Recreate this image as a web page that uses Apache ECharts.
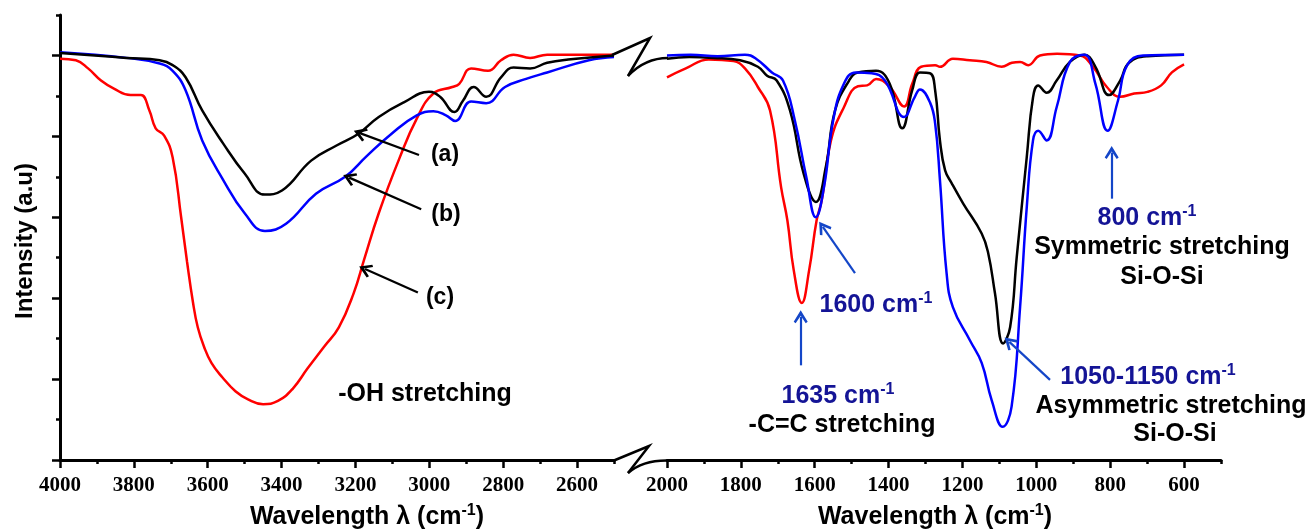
<!DOCTYPE html>
<html>
<head>
<meta charset="utf-8">
<script src="https://cdn.jsdelivr.net/npm/echarts@6/dist/echarts.min.js"></script>
<style>
html,body{margin:0;padding:0;background:#fff;}
#chart{width:1311px;height:532px;}
</style>
</head>
<body>
<div id="chart"></div>
<script>
// ---------- data ----------
// Left panel (4000–2500 cm-1)
const aLeftW = [4000,3820,3730,3695,3660,3615,3558,3500,3445,3399,3320,3250,3193,3137,3069,3001,2971,2932,2909,2880,2846,2806,2772,2727,2681,2624,2500];
const aLeftI = [5.03,4.97,4.94,4.88,4.73,4.32,3.91,3.54,3.28,3.33,3.70,3.89,4.03,4.24,4.42,4.55,4.49,4.30,4.44,4.61,4.49,4.73,4.85,4.84,4.91,4.95,5.0];
const bLeftW = [4000,3820,3730,3695,3660,3615,3558,3500,3445,3388,3307,3228,3171,3103,3034,2989,2955,2930,2887,2846,2795,2738,2681,2568,2500];
const bLeftI = [5.04,4.97,4.90,4.81,4.57,3.95,3.46,3.05,2.83,2.92,3.29,3.50,3.75,4.03,4.26,4.31,4.26,4.19,4.43,4.41,4.61,4.71,4.79,4.94,4.98];
const cLeftW = [4000,3957,3924,3889,3854,3809,3781,3758,3741,3718,3695,3672,3656,3640,3627,3610,3590,3560,3525,3491,3450,3410,3370,3330,3285,3245,3205,3177,3137,3080,3034,2989,2938,2919,2887,2841,2806,2772,2727,2681,2500];
const cLeftI = [4.96,4.94,4.84,4.69,4.59,4.51,4.51,4.32,4.10,4.01,3.74,3.00,2.45,1.95,1.64,1.40,1.20,1.02,0.85,0.75,0.69,0.73,0.88,1.13,1.40,1.64,2.06,2.47,3.05,3.74,4.22,4.53,4.61,4.65,4.84,4.81,4.94,5.01,4.97,5.01,5.01];

// Right panel (2000–500 cm-1)
const aRightW = [2000,1940,1875,1802,1754,1729,1703,1667,1630,1597,1570,1545,1507,1483,1434,1397,1363,1336,1315,1288,1274,1261,1247,1229,1198,1148,1130,1112,1090,1071,1053,1026,1009,995,972,945,909,870,840,803,773,749,699,600];
const aRightI = [4.96,4.98,4.97,4.94,4.86,4.75,4.69,4.32,3.54,3.19,3.62,4.32,4.69,4.79,4.81,4.65,4.10,4.57,4.79,4.78,4.57,3.95,3.58,3.42,3.17,2.80,2.55,2.06,1.44,1.64,2.51,3.74,4.48,4.63,4.54,4.69,4.92,5.01,4.86,4.51,4.69,4.91,4.99,5.01];
const bRightW = [2000,1936,1863,1789,1759,1716,1686,1654,1623,1597,1575,1550,1521,1489,1446,1410,1358,1330,1315,1288,1274,1261,1243,1226,1180,1148,1121,1091,1067,1044,1026,1009,995,972,945,909,870,840,807,779,754,711,600];
const bRightI = [5.0,5.01,4.99,5.01,4.96,4.79,4.69,4.20,3.50,3.00,3.37,4.20,4.65,4.79,4.78,4.69,4.24,4.48,4.58,4.42,4.16,3.46,2.31,1.89,1.48,1.20,0.74,0.41,0.66,1.89,3.12,3.95,4.07,3.95,4.36,4.92,5.01,4.65,4.07,4.44,4.88,5.0,5.01];
const cRightW = [2000,1949,1887,1820,1789,1754,1721,1691,1674,1657,1635,1615,1595,1581,1556,1521,1483,1458,1434,1397,1358,1336,1312,1274,1261,1226,1180,1135,1094,1066,1044,1022,990,944,882,847,809,773,735,699,662,633,600];
const cRightI = [4.73,4.84,4.95,4.93,4.84,4.61,4.32,3.37,2.96,2.35,1.94,2.35,2.96,3.21,3.95,4.36,4.62,4.63,4.71,4.61,4.37,4.65,4.86,4.88,4.86,4.96,4.94,4.92,4.86,4.91,4.92,4.88,5.0,5.02,5.0,4.86,4.61,4.49,4.53,4.55,4.63,4.79,4.89];

// Axis ticks
const leftMajor = [2600,2800,3000,3200,3400,3600,3800,4000];
const leftMinor = [2500,2700,2900,3100,3300,3500,3700,3900];
const rightMajor = [600,800,1000,1200,1400,1600,1800,2000];
const rightMinor = [500,700,900,1100,1300,1500,1700,1900];
const yMajor = [0,1,2,3,4,5];
const yMinor = [0.5,1.5,2.5,3.5,4.5,5.5];

// Annotation arrows (data coords: [wavenumber, intensity])
const leftArrows = [
  [[3028,3.77],[3188,4.04]],
  [[3022,3.10],[3217,3.49]],
  [[3031,2.07],[3174,2.36]]
];
const rightArrows = [
  [[1491,2.31],[1578,2.88]],
  [[1638,1.17],[1638,1.77]],
  [[963,0.99],[1073,1.46]],
  [[796,3.23],[796,3.80]]
];

// ---------- chart ----------
const zip = (w, v) => w.map((x, i) => [x, v[i]]);
const BLACK = '#000000', BLUE = '#0000ff', RED = '#ff0000';
const NAVY = '#141496', ARROWBLUE = '#1446c8';
const SANS = '"Liberation Sans", Arial, sans-serif';
const SERIF = '"Liberation Serif", "Times New Roman", serif';
const arrowHead = 'path://M5,0 L10,8.5 L8.6,9.7 L5,4 L1.4,9.7 L0,8.5 Z';

function lineSeries(data, color, xi, yi, arrows, arrowColor) {
  const s = {
    type: 'line', data: data, xAxisIndex: xi, yAxisIndex: yi,
    showSymbol: false, symbol: 'none', smooth: 0.45,
    lineStyle: {color: color, width: 2.5}, itemStyle: {color: color},
    silent: true, animation: false, z: 3
  };
  if (arrows) {
    s.markLine = {
      silent: true, animation: false,
      symbol: ['none', arrowHead], symbolSize: [14, 13], symbolOffset: [0, 0],
      label: {show: false},
      lineStyle: {color: arrowColor, width: 2.2, type: 'solid'},
      data: arrows.map(a => [{coord: a[0]}, {coord: a[1]}])
    };
  }
  return s;
}

const axisLineStyle = {color: '#000', width: 3};
function xMain(grid, min, max, major) {
  return {
    type: 'value', gridIndex: grid, min: min, max: max, inverse: true, position: 'bottom',
    axisLine: {show: true, onZero: false, lineStyle: axisLineStyle},
    axisTick: {show: true, inside: false, length: 8, lineStyle: {color: '#000', width: 2.5}, customValues: major},
    axisLabel: {show: true, customValues: major, formatter: v => String(v),
      fontFamily: SERIF, fontWeight: 'bold', fontSize: 21, color: '#000', margin: 15},
    splitLine: {show: false}
  };
}
function xMinor(grid, min, max, minor) {
  return {
    type: 'value', gridIndex: grid, min: min, max: max, inverse: true, position: 'bottom',
    axisLine: {show: false, onZero: false},
    axisTick: {show: true, inside: false, length: 4, lineStyle: {color: '#000', width: 2.5}, customValues: minor},
    axisLabel: {show: false}, splitLine: {show: false}
  };
}

const option = {
  backgroundColor: '#fff',
  animation: false,
  grid: [
    {left: 60, top: 15, width: 554, height: 445, outerBoundsMode: 'none', containLabel: false},
    {left: 667, top: 15, width: 554, height: 445, outerBoundsMode: 'none', containLabel: false}
  ],
  xAxis: [
    xMain(0, 2500, 4000, leftMajor),
    xMinor(0, 2500, 4000, leftMinor),
    xMain(1, 500, 2000, rightMajor),
    xMinor(1, 500, 2000, rightMinor)
  ],
  yAxis: [
    {type: 'value', gridIndex: 0, min: 0, max: 5.5, position: 'left',
     axisLine: {show: true, onZero: false, lineStyle: axisLineStyle},
     axisTick: {show: true, inside: false, length: 8, lineStyle: {color: '#000', width: 2.5}, customValues: yMajor},
     axisLabel: {show: false}, splitLine: {show: false}},
    {type: 'value', gridIndex: 0, min: 0, max: 5.5, position: 'left',
     axisLine: {show: false, onZero: false},
     axisTick: {show: true, inside: false, length: 4, lineStyle: {color: '#000', width: 2.5}, customValues: yMinor},
     axisLabel: {show: false}, splitLine: {show: false}},
    {type: 'value', gridIndex: 1, min: 0, max: 5.5, show: false}
  ],
  series: [
    lineSeries(zip(cLeftW, cLeftI), RED, 0, 0),
    lineSeries(zip(bLeftW, bLeftI), BLUE, 0, 0),
    lineSeries(zip(aLeftW, aLeftI), BLACK, 0, 0, leftArrows, BLACK),
    lineSeries(zip(cRightW, cRightI), RED, 2, 2),
    lineSeries(zip(aRightW, aRightI), BLACK, 2, 2),
    lineSeries(zip(bRightW, bRightI), BLUE, 2, 2, rightArrows, ARROWBLUE)
  ],
  graphic: []
};

function txt(x, y, text, color, size, rot) {
  const el = {
    type: 'text', x: x, y: y, silent: true, z: 10,
    style: {
      text: text, x: 0, y: 0, align: 'center', verticalAlign: 'middle',
      fill: color, fontFamily: SANS, fontWeight: 'bold', fontSize: size,
      rich: {
        b: {fill: color, fontFamily: SANS, fontWeight: 'bold', fontSize: size, lineHeight: size + 4},
        s: {fill: color, fontFamily: SANS, fontWeight: 'bold', fontSize: Math.round(size * 0.62), verticalAlign: 'top', lineHeight: Math.round(size * 0.62)}
      }
    }
  };
  if (rot) el.rotation = rot;
  return el;
}

option.graphic = [
  // axis break on x axis
  {type: 'polyline', silent: true, z: 5, shape: {points: [[614,460.5],[649,446],[628,473]]},
   style: {stroke: '#000', lineWidth: 2.5, fill: null}},
  {type: 'bezierCurve', silent: true, z: 5, shape: {x1: 628, y1: 473, cpx1: 643, cpy1: 460, x2: 668, y2: 460.5},
   style: {stroke: '#000', lineWidth: 2.5, fill: null}},
  // break symbol on the curves
  {type: 'polyline', silent: true, z: 5, shape: {points: [[612,55],[650,38],[628,76]]},
   style: {stroke: '#000', lineWidth: 2.5, fill: null}},
  {type: 'bezierCurve', silent: true, z: 5, shape: {x1: 628, y1: 76, cpx1: 645, cpy1: 58, x2: 668, y2: 58},
   style: {stroke: '#000', lineWidth: 2.5, fill: null}},
  // axis titles
  txt(25, 241, '{b|Intensity (a.u)}', '#000', 24, Math.PI / 2),
  txt(367, 517, '{b|Wavelength λ (cm}{s|-1}{b|)}', '#000', 25),
  txt(935, 517, '{b|Wavelength λ (cm}{s|-1}{b|)}', '#000', 25),
  // left annotations
  txt(445, 155, '{b|(a)}', '#000', 23),
  txt(446, 215, '{b|(b)}', '#000', 23),
  txt(440, 298, '{b|(c)}', '#000', 23),
  txt(425, 394, '{b|-OH stretching}', '#000', 25),
  // right annotations
  txt(876, 305, '{b|1600 cm}{s|-1}', NAVY, 25),
  txt(838, 396, '{b|1635 cm}{s|-1}', NAVY, 25),
  txt(842, 425, '{b|-C=C stretching}', '#000', 25),
  txt(1147, 218, '{b|800 cm}{s|-1}', NAVY, 25),
  txt(1162, 247, '{b|Symmetric stretching}', '#000', 25),
  txt(1162, 277, '{b|Si-O-Si}', '#000', 25),
  txt(1148, 377, '{b|1050-1150 cm}{s|-1}', NAVY, 25),
  txt(1171, 406, '{b|Asymmetric stretching}', '#000', 25),
  txt(1175, 434, '{b|Si-O-Si}', '#000', 25)
];

const chart = echarts.init(document.getElementById('chart'), null, {renderer: 'canvas'});
chart.setOption(option);
</script>
</body>
</html>
